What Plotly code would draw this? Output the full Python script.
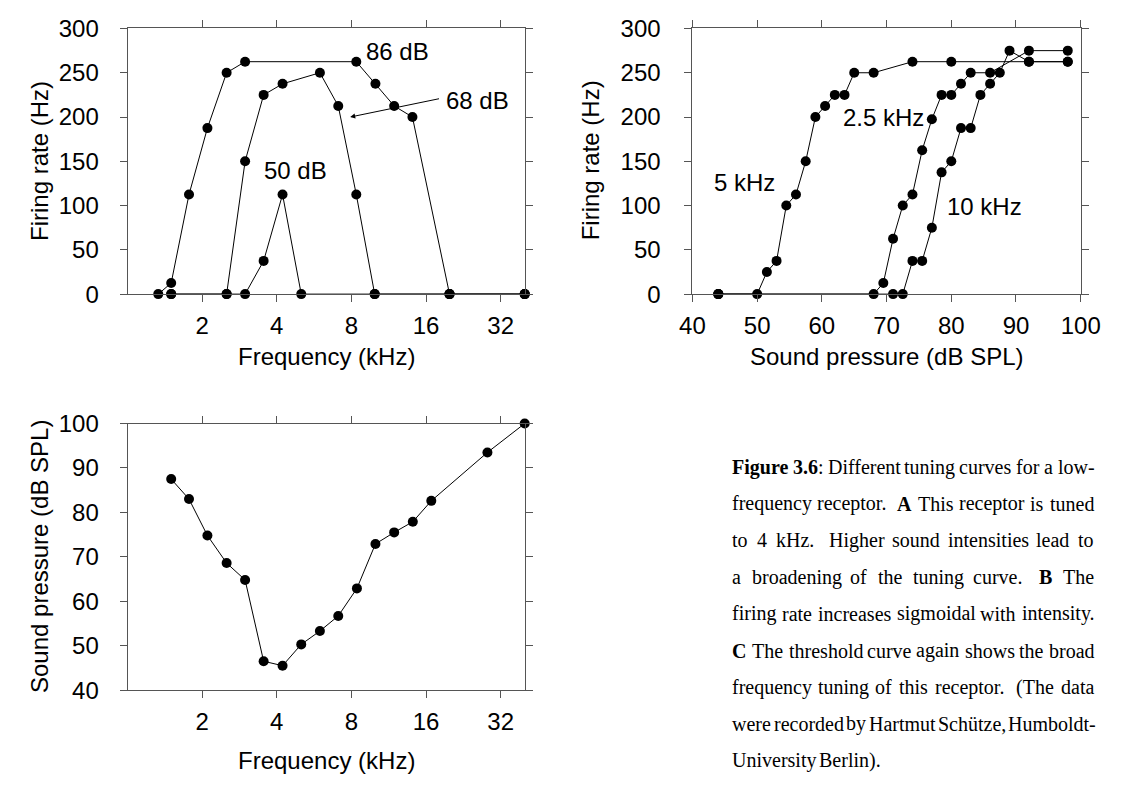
import math
import re
import plotly.graph_objects as go

# ---------------- data ----------------
# Panel A: firing rate vs frequency at three intensities
A_freq_86 = [1.33, 1.50, 1.77, 2.10, 2.51, 2.98, 8.37, 10.0, 11.9, 14.1, 19.9, 40.0]
A_rate_86 = [0, 12.5, 112.5, 187.5, 250, 262.5, 262.5, 237.5, 212.5, 200, 0, 0]
A_freq_68 = [1.50, 2.51, 2.98, 3.54, 4.22, 5.97, 7.08, 8.37, 9.93, 19.9, 40.0]
A_rate_68 = [0, 0, 150, 225, 237.5, 250, 212.5, 112.5, 0, 0, 0]
A_freq_50 = [1.50, 2.51, 2.98, 3.54, 4.22, 5.02, 9.93, 19.9, 40.0]
A_rate_50 = [0, 0, 0, 37.5, 112.5, 0, 0, 0, 0]

# Panel B: firing rate vs sound pressure at three frequencies
B_spl_5 = [44, 50, 51.5, 53, 54.5, 56, 57.5, 59, 60.5, 62, 63.5, 65, 68, 74, 80, 92, 98]
B_rate_5 = [0, 0, 25, 37.5, 100, 112.5, 150, 200, 212.5, 225, 225, 250, 250, 262.5, 262.5, 262.5, 262.5]
B_spl_25 = [44, 68, 69.5, 71, 72.5, 74, 75.5, 77, 78.5, 80, 81.5, 83, 86, 92, 98]
B_rate_25 = [0, 0, 12.5, 62.5, 100, 112.5, 162.5, 197.5, 225, 225, 237.5, 250, 250, 275, 275]
B_spl_10 = [44, 71, 72.5, 74, 75.5, 77, 78.5, 80, 81.5, 83, 84.5, 86, 87.5, 89, 92, 98]
B_rate_10 = [0, 0, 0, 37.5, 37.5, 75, 137.5, 150, 187.5, 187.5, 225, 237.5, 250, 275, 262.5, 262.5]

# Panel C: threshold curve
C_freq = [1.50, 1.77, 2.10, 2.51, 2.98, 3.54, 4.22, 5.02, 5.97, 7.08, 8.42, 10.0, 11.9, 14.15, 16.8, 28.3, 40.0]
C_spl = [87.5, 83, 74.8, 68.6, 64.8, 46.5, 45.5, 50.3, 53.3, 56.7, 62.9, 72.9, 75.5, 77.9, 82.6, 93.5, 100]

freq_ticks = [2, 4, 8, 16, 32]
freq_tick_labels = ["2", "4", "8", "16", "32"]

caption_lines = [
    ["<b>Figure</b>", "<b>3.6</b>:", "Different", "tuning", "curves", "for", "a", "low-"],
    ["frequency", "receptor.", "<b>A</b>", "This", "receptor", "is", "tuned"],
    ["to", "4", "kHz.", "Higher", "sound", "intensities", "lead", "to"],
    ["a", "broadening", "of", "the", "tuning", "curve.", "<b>B</b>", "The"],
    ["firing", "rate", "increases", "sigmoidal", "with", "intensity."],
    ["<b>C</b>", "The", "threshold", "curve", "again", "shows", "the", "broad"],
    ["frequency", "tuning", "of", "this", "receptor.", "(The", "data"],
    ["were", "recorded", "by", "Hartmut", "Schütze,", "Humboldt-"],
    ["University", "Berlin)."],
]

# ---------------- layout helpers ----------------
W, H = 1124, 792
SANS = "Liberation Sans, Arial, sans-serif"
SERIF = "Liberation Serif, Times New Roman, serif"
FS = 24      # plot text
CFS = 20     # caption text


def px(x):
    return x / W


def py(y):
    return 1 - y / H


AX_COLOR = "#555555"
axis_common = dict(
    showline=True, linecolor=AX_COLOR, linewidth=1, mirror="ticks",
    ticks="outside", ticklen=7, tickcolor=AX_COLOR, tickwidth=1,
    showgrid=False, zeroline=False,
    tickfont=dict(family=SANS, size=FS, color="black"),
)

LOG_RANGE = [0, math.log10(40.3)]

fig = go.Figure()


def add_curve(x, y, xa, ya):
    fig.add_trace(go.Scatter(
        x=x, y=y, xaxis=xa, yaxis=ya, mode="lines+markers",
        line=dict(color="black", width=1),
        marker=dict(color="black", size=10),
        cliponaxis=False, showlegend=False, hoverinfo="x+y",
    ))


add_curve(A_freq_86, A_rate_86, "x", "y")
add_curve(A_freq_68, A_rate_68, "x", "y")
add_curve(A_freq_50, A_rate_50, "x", "y")
add_curve(B_spl_5, B_rate_5, "x2", "y2")
add_curve(B_spl_25, B_rate_25, "x2", "y2")
add_curve(B_spl_10, B_rate_10, "x2", "y2")
add_curve(C_freq, C_spl, "x3", "y3")

A_dom_x = [px(118), px(528)]
B_dom_x = [px(700), px(1100)]
top_dom_y = [py(290), py(15)]
C_dom_y = [py(700), py(424)]

fig.update_layout(
    width=W, height=H,
    margin=dict(l=0, r=0, t=0, b=0),
    paper_bgcolor="white", plot_bgcolor="white",
    xaxis=dict(axis_common, type="log", range=LOG_RANGE, domain=A_dom_x,
               tickvals=freq_ticks, ticktext=freq_tick_labels, anchor="y",
               ticklabelstandoff=3),
    yaxis=dict(axis_common, range=[0, 300], dtick=50, domain=top_dom_y, anchor="x",
               ticklabelstandoff=16),
    xaxis2=dict(axis_common, range=[40, 100], dtick=10, domain=B_dom_x, anchor="y2",
                ticklabelstandoff=3),
    yaxis2=dict(axis_common, range=[0, 300], dtick=50, domain=top_dom_y, anchor="x2",
                ticklabelstandoff=19),
    xaxis3=dict(axis_common, type="log", range=LOG_RANGE, domain=A_dom_x,
                tickvals=freq_ticks, ticktext=freq_tick_labels, anchor="y3",
                ticklabelstandoff=3),
    yaxis3=dict(axis_common, range=[40, 100], dtick=10, domain=C_dom_y, anchor="x3",
                ticklabelstandoff=16),
)

ann = []
lbl = dict(family=SANS, size=FS, color="black")


def paper_text(text, x, y, angle=0):
    ann.append(dict(text=text, x=px(x), y=py(y), xref="paper", yref="paper",
                    showarrow=False, xanchor="center", yanchor="middle",
                    textangle=angle, font=lbl))


# axis titles
paper_text("Firing rate (Hz)", 28, 152, -90)
paper_text("Frequency (kHz)", 323, 355)
paper_text("Firing rate (Hz)", 595, 152, -90)
paper_text("Sound pressure (dB SPL)", 900, 355)
paper_text("Sound pressure (dB SPL)", 28, 562, -90)
paper_text("Frequency (kHz)", 323, 773)

# in-plot labels (log axes take log10 coordinates)
L = math.log10
for t, xv, yv in [("86 dB", 12.3, 274.5), ("68 dB", 25.9, 219), ("50 dB", 4.77, 140)]:
    ann.append(dict(text=t, x=L(xv), y=yv, xref="x", yref="y", showarrow=False,
                    xanchor="center", yanchor="middle", font=lbl))
ann.append(dict(text="", x=L(7.91), y=200, xref="x", yref="y",
                ax=L(18.3), ay=221, axref="x", ayref="y",
                showarrow=True, arrowhead=2, arrowsize=1, arrowwidth=1,
                arrowcolor="black", standoff=0, startstandoff=0))
for t, xv, yv in [("2.5 kHz", 69.6, 200), ("5 kHz", 48.1, 125.5), ("10 kHz", 85.2, 99)]:
    ann.append(dict(text=t, x=xv, y=yv, xref="x2", yref="y2", showarrow=False,
                    xanchor="center", yanchor="middle", font=lbl))

# ---------------- caption (justified, Times metrics) ----------------
TR = {' ': 250, '(': 333, ')': 333, ',': 250, '-': 333, '.': 250, ':': 278,
      'A': 722, 'B': 667, 'C': 667, 'D': 722, 'H': 722, 'S': 556, 'T': 611, 'U': 722,
      'a': 444, 'b': 500, 'c': 444, 'd': 500, 'e': 444, 'f': 333, 'g': 500, 'h': 500,
      'i': 278, 'j': 278, 'k': 500, 'l': 278, 'm': 778, 'n': 500, 'o': 500, 'p': 500,
      'q': 500, 'r': 333, 's': 389, 't': 278, 'u': 500, 'v': 500, 'w': 722, 'x': 500,
      'y': 500, 'z': 444, 'ü': 500, 'K': 722}
for d in "0123456789":
    TR[d] = 500
TB = {'F': 611, 'i': 278, 'g': 500, 'u': 556, 'r': 444, 'e': 444, '3': 500, '.': 250,
      '6': 500, 'A': 722, 'B': 667, 'C': 722}


def word_width(w):
    total = 0
    for part in re.split(r"(<b>.*?</b>)", w):
        if part.startswith("<b>"):
            total += sum(TB.get(c, 500) for c in part[3:-4])
        else:
            total += sum(TR.get(c, 500) for c in part)
    return total / 1000 * CFS


CAP_X0, CAP_X1 = 740, 1112
CAP_Y0, CAP_DY = 469, 38
cap_font = dict(family=SERIF, size=CFS, color="black")
for i, words in enumerate(caption_lines):
    widths = [word_width(w) for w in words]
    weights = [1.6 if words[k].endswith(".") else 1.0 for k in range(len(words) - 1)]
    last = i == len(caption_lines) - 1
    if last:
        gaps = [0.25 * CFS * wt for wt in weights]
    else:
        free = (CAP_X1 - CAP_X0) - sum(widths)
        gaps = [free * wt / sum(weights) for wt in weights]
    x = CAP_X0
    y = CAP_Y0 + CAP_DY * i
    for k, w in enumerate(words):
        ann.append(dict(text=w, x=px(x), y=py(y), xref="paper", yref="paper",
                        showarrow=False, xanchor="left", yanchor="middle",
                        font=cap_font, borderpad=0))
        x += widths[k] + (gaps[k] if k < len(gaps) else 0)

fig.update_layout(annotations=ann)
fig.write_html("out.html")
